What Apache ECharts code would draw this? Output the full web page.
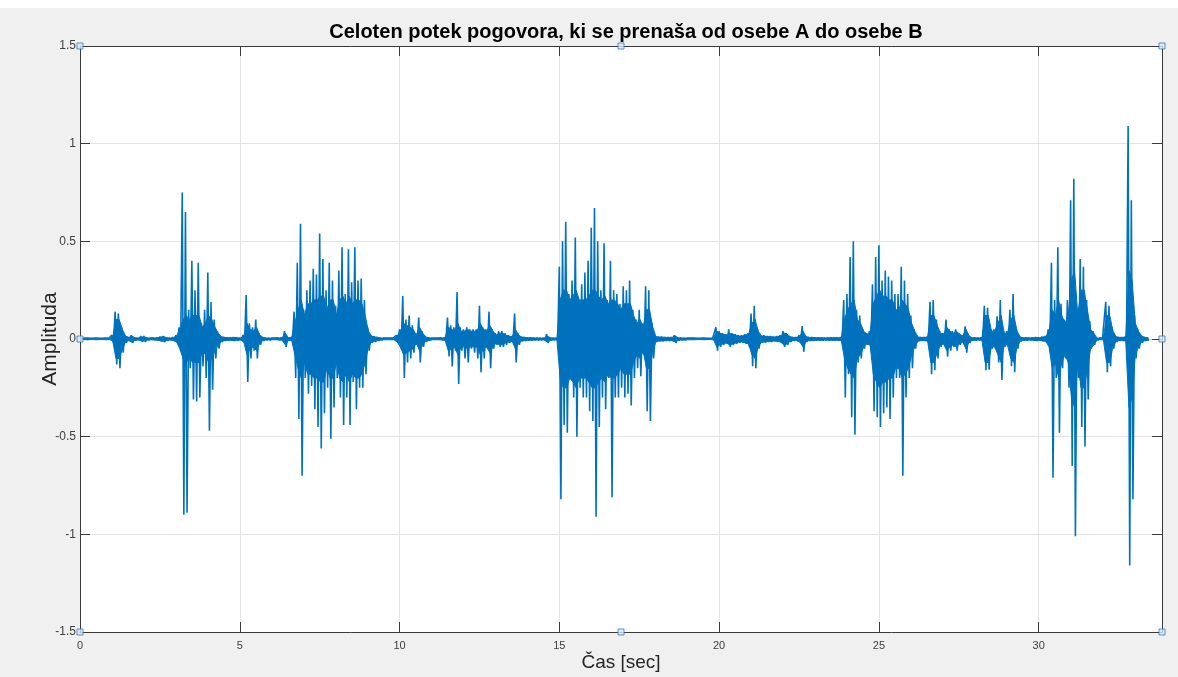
<!DOCTYPE html>
<html>
<head>
<meta charset="utf-8">
<script src="https://cdn.jsdelivr.net/npm/echarts@6/dist/echarts.min.js"></script>
<style>
html,body{margin:0;padding:0;background:#f0f0f0;}
#chart{width:1178px;height:677px;}
</style>
</head>
<body>
<div id="chart"></div>
<script>
// Waveform: one bin every 0.1 s starting at 0 s.
// upper / lower = peak values in each bin, core = amplitude of the dense core in each bin
const binStep = 0.1;
const upper = [
0.004,0.004,0.005,0.004,0.004,0.005,0.004,0.004,0.005,0.004,
0.02,0.14,0.13,0.06,0.02,0.01,0.02,0.008,0.006,0.015,
0.015,0.006,0.005,0.006,0.008,0.012,0.015,0.008,0.006,0.01,
0.02,0.06,0.75,0.65,0.15,0.40,0.25,0.39,0.08,0.15,
0.34,0.19,0.10,0.04,0.015,0.01,0.008,0.008,0.01,0.008,
0.006,0.02,0.225,0.08,0.06,0.10,0.03,0.01,0.006,0.006,
0.005,0.005,0.006,0.008,0.04,0.008,0.01,0.14,0.39,0.59,
0.15,0.25,0.30,0.36,0.33,0.54,0.41,0.25,0.39,0.30,
0.17,0.35,0.47,0.23,0.46,0.29,0.47,0.30,0.31,0.20,
0.06,0.02,0.015,0.01,0.006,0.005,0.005,0.005,0.005,0.02,
0.05,0.22,0.10,0.12,0.07,0.03,0.11,0.04,0.015,0.008,
0.005,0.005,0.005,0.006,0.008,0.11,0.07,0.06,0.24,0.06,
0.05,0.06,0.05,0.05,0.05,0.17,0.06,0.05,0.14,0.05,
0.03,0.04,0.04,0.03,0.02,0.015,0.13,0.03,0.012,0.01,
0.008,0.008,0.007,0.007,0.006,0.006,0.025,0.008,0.006,0.006,
0.37,0.50,0.60,0.23,0.30,0.52,0.20,0.28,0.34,0.40,
0.57,0.67,0.50,0.25,0.49,0.20,0.40,0.25,0.23,0.18,
0.27,0.25,0.30,0.15,0.10,0.15,0.08,0.27,0.25,0.08,
0.015,0.012,0.012,0.01,0.01,0.01,0.02,0.008,0.007,0.006,
0.005,0.005,0.005,0.004,0.004,0.005,0.004,0.004,0.005,0.06,
0.04,0.03,0.025,0.05,0.03,0.025,0.02,0.02,0.025,0.03,
0.13,0.17,0.05,0.02,0.02,0.015,0.015,0.012,0.015,0.02,
0.04,0.03,0.015,0.01,0.01,0.02,0.066,0.015,0.01,0.01,
0.008,0.008,0.008,0.007,0.008,0.008,0.009,0.008,0.01,0.20,
0.23,0.42,0.50,0.15,0.12,0.05,0.03,0.04,0.28,0.42,
0.48,0.30,0.35,0.32,0.30,0.23,0.23,0.37,0.30,0.23,
0.12,0.05,0.012,0.01,0.01,0.012,0.19,0.20,0.10,0.04,
0.03,0.10,0.05,0.04,0.05,0.03,0.02,0.065,0.02,0.008,
0.008,0.007,0.008,0.17,0.16,0.05,0.05,0.116,0.20,0.04,
0.04,0.15,0.23,0.05,0.012,0.008,0.008,0.007,0.008,0.01,
0.008,0.012,0.015,0.05,0.39,0.20,0.47,0.18,0.10,0.20,
0.71,0.82,0.15,0.41,0.37,0.20,0.09,0.04,0.006,0.005,
0.005,0.19,0.17,0.06,0.015,0.01,0.01,0.012,1.09,0.71,
0.12,0.05,0.02,0.01,0.008
];
const lower = [
-0.004,-0.005,-0.004,-0.004,-0.005,-0.004,-0.004,-0.005,-0.004,-0.004,
-0.02,-0.13,-0.15,-0.07,-0.02,-0.01,-0.02,-0.008,-0.006,-0.015,
-0.015,-0.006,-0.005,-0.006,-0.008,-0.012,-0.015,-0.008,-0.006,-0.01,
-0.02,-0.06,-0.90,-0.89,-0.15,-0.31,-0.32,-0.30,-0.14,-0.20,
-0.47,-0.26,-0.10,-0.05,-0.015,-0.01,-0.008,-0.008,-0.01,-0.008,
-0.006,-0.02,-0.22,-0.10,-0.06,-0.10,-0.03,-0.01,-0.006,-0.006,
-0.005,-0.005,-0.006,-0.008,-0.04,-0.008,-0.01,-0.20,-0.41,-0.70,
-0.20,-0.28,-0.24,-0.36,-0.45,-0.56,-0.38,-0.25,-0.51,-0.35,
-0.20,-0.30,-0.44,-0.30,-0.44,-0.22,-0.36,-0.25,-0.25,-0.18,
-0.06,-0.02,-0.015,-0.01,-0.006,-0.005,-0.005,-0.005,-0.005,-0.02,
-0.05,-0.20,-0.12,-0.10,-0.07,-0.03,-0.12,-0.04,-0.015,-0.008,
-0.005,-0.005,-0.005,-0.006,-0.008,-0.09,-0.14,-0.06,-0.23,-0.06,
-0.10,-0.12,-0.05,-0.07,-0.10,-0.17,-0.10,-0.05,-0.15,-0.05,
-0.03,-0.04,-0.04,-0.03,-0.02,-0.015,-0.12,-0.03,-0.012,-0.01,
-0.008,-0.008,-0.007,-0.007,-0.006,-0.006,-0.02,-0.008,-0.006,-0.006,
-0.82,-0.44,-0.48,-0.20,-0.30,-0.50,-0.25,-0.30,-0.30,-0.37,
-0.42,-0.91,-0.45,-0.30,-0.36,-0.20,-0.81,-0.30,-0.30,-0.25,
-0.30,-0.28,-0.34,-0.20,-0.15,-0.19,-0.08,-0.37,-0.42,-0.10,
-0.015,-0.012,-0.012,-0.01,-0.01,-0.01,-0.02,-0.008,-0.007,-0.006,
-0.005,-0.004,-0.005,-0.005,-0.004,-0.005,-0.004,-0.005,-0.004,-0.06,
-0.04,-0.03,-0.025,-0.04,-0.03,-0.025,-0.02,-0.02,-0.025,-0.04,
-0.14,-0.15,-0.05,-0.02,-0.02,-0.015,-0.015,-0.012,-0.015,-0.02,
-0.04,-0.03,-0.015,-0.01,-0.01,-0.02,-0.065,-0.015,-0.01,-0.01,
-0.008,-0.008,-0.008,-0.007,-0.008,-0.008,-0.009,-0.008,-0.01,-0.30,
-0.18,-0.40,-0.49,-0.12,-0.10,-0.05,-0.03,-0.05,-0.37,-0.40,
-0.45,-0.38,-0.35,-0.41,-0.30,-0.20,-0.20,-0.70,-0.30,-0.20,
-0.15,-0.05,-0.012,-0.01,-0.01,-0.012,-0.18,-0.16,-0.10,-0.04,
-0.03,-0.09,-0.06,-0.04,-0.06,-0.03,-0.02,-0.07,-0.02,-0.008,
-0.008,-0.007,-0.008,-0.16,-0.157,-0.05,-0.05,-0.12,-0.21,-0.04,
-0.04,-0.14,-0.17,-0.05,-0.012,-0.008,-0.008,-0.007,-0.008,-0.01,
-0.008,-0.012,-0.015,-0.05,-0.71,-0.20,-0.48,-0.15,-0.10,-0.25,
-0.65,-1.01,-0.20,-0.45,-0.55,-0.31,-0.05,-0.03,-0.006,-0.005,
-0.005,-0.17,-0.14,-0.05,-0.015,-0.01,-0.01,-0.012,-1.16,-0.82,
-0.10,-0.05,-0.02,-0.01,-0.008
];
const core = [
0.003,0.003,0.004,0.003,0.003,0.004,0.003,0.003,0.004,0.003,
0.01,0.10,0.10,0.05,0.015,0.008,0.015,0.006,0.005,0.01,
0.01,0.005,0.004,0.005,0.006,0.01,0.012,0.006,0.005,0.008,
0.015,0.05,0.10,0.12,0.10,0.12,0.12,0.12,0.06,0.08,
0.12,0.10,0.06,0.03,0.012,0.008,0.006,0.006,0.008,0.006,
0.005,0.015,0.08,0.05,0.04,0.06,0.02,0.008,0.005,0.005,
0.004,0.004,0.005,0.006,0.03,0.006,0.008,0.08,0.15,0.20,
0.12,0.18,0.18,0.20,0.20,0.22,0.22,0.15,0.20,0.20,
0.12,0.20,0.22,0.18,0.22,0.18,0.20,0.20,0.18,0.12,
0.04,0.015,0.01,0.008,0.005,0.004,0.004,0.004,0.004,0.015,
0.04,0.08,0.07,0.06,0.05,0.02,0.06,0.03,0.01,0.006,
0.004,0.004,0.004,0.005,0.006,0.06,0.05,0.04,0.08,0.04,
0.04,0.05,0.04,0.04,0.04,0.08,0.05,0.04,0.07,0.04,
0.02,0.03,0.03,0.02,0.015,0.012,0.05,0.02,0.01,0.008,
0.006,0.006,0.005,0.005,0.005,0.005,0.015,0.006,0.005,0.005,
0.20,0.25,0.25,0.20,0.22,0.25,0.20,0.20,0.20,0.22,
0.25,0.25,0.22,0.20,0.22,0.18,0.20,0.20,0.18,0.15,
0.18,0.18,0.18,0.12,0.08,0.10,0.06,0.15,0.15,0.06,
0.012,0.01,0.01,0.008,0.008,0.008,0.015,0.006,0.005,0.005,
0.004,0.004,0.004,0.003,0.003,0.004,0.003,0.003,0.004,0.04,
0.03,0.025,0.02,0.03,0.025,0.02,0.015,0.015,0.02,0.025,
0.08,0.10,0.04,0.015,0.015,0.012,0.012,0.01,0.012,0.015,
0.03,0.025,0.012,0.008,0.008,0.015,0.04,0.012,0.008,0.008,
0.006,0.006,0.006,0.005,0.006,0.006,0.007,0.006,0.008,0.10,
0.15,0.18,0.20,0.10,0.08,0.04,0.025,0.03,0.18,0.22,
0.25,0.22,0.22,0.20,0.20,0.15,0.15,0.20,0.18,0.15,
0.08,0.04,0.01,0.008,0.008,0.01,0.12,0.12,0.07,0.03,
0.025,0.06,0.04,0.03,0.04,0.025,0.015,0.05,0.015,0.006,
0.006,0.005,0.006,0.12,0.12,0.04,0.04,0.08,0.12,0.03,
0.03,0.10,0.12,0.04,0.01,0.006,0.006,0.005,0.006,0.008,
0.006,0.01,0.012,0.04,0.15,0.12,0.20,0.12,0.08,0.12,
0.30,0.35,0.12,0.25,0.25,0.15,0.05,0.03,0.005,0.004,
0.004,0.12,0.12,0.04,0.012,0.008,0.008,0.01,0.35,0.30,
0.08,0.04,0.015,0.008,0.006
];
const xMin = 0, xMax = 33.86, xInterval = 5;
const yMin = -1.5, yMax = 1.5, yInterval = 0.5;
const titleText = 'Celoten potek pogovora, ki se prenaša od osebe A do osebe B';
const xName = 'Čas [sec]';
const yName = 'Amplituda';

const wave = [], coreTop = [], coreBottom = [];
for (let i = 0; i < upper.length; i++) {
  const t = i * binStep;
  wave.push([+t.toFixed(3), upper[i]]);
  wave.push([+(t + binStep / 2).toFixed(3), lower[i]]);
  coreTop.push([+(t + binStep / 4).toFixed(3), core[i]]);
  coreBottom.push([+(t + binStep / 4).toFixed(3), -core[i]]);
}
const handles = [
  [xMin, yMax], [(xMin + xMax) / 2, yMax], [xMax, yMax],
  [xMin, 0], [xMax, 0],
  [xMin, yMin], [(xMin + xMax) / 2, yMin], [xMax, yMin]
];

const blue = '#0072BD';
const axisColor = '#3a3a3a';
const font = 'Liberation Sans, Arial, sans-serif';
const lineAxis = {show: true, onZero: false, lineStyle: {color: axisColor, width: 1}};
const tickAxis = {show: true, inside: true, length: 10, lineStyle: {color: axisColor}};
const chart = echarts.init(document.getElementById('chart'), null, {renderer: 'canvas'});
chart.setOption({
  backgroundColor: '#f0f0f0',
  animation: false,
  graphic: [{type: 'rect', left: 0, top: 0, shape: {width: 1178, height: 8}, style: {fill: '#ffffff'}, silent: true, z: -1}],
  title: {
    text: titleText, left: 621, top: 17, textAlign: 'center',
    textStyle: {fontFamily: font, fontSize: 20, fontWeight: 'bold', color: '#000'}
  },
  grid: {left: 80, right: 16, top: 46, bottom: 45, show: true, backgroundColor: '#ffffff', borderWidth: 0,
         containLabel: false, outerBoundsMode: 'none'},
  xAxis: [{
    type: 'value', min: xMin, max: xMax, interval: xInterval, position: 'bottom',
    name: xName, nameLocation: 'middle', nameGap: 21, nameMoveOverlap: false,
    nameTextStyle: {fontFamily: font, fontSize: 19, color: '#262626'},
    axisLine: lineAxis, axisTick: tickAxis,
    axisLabel: {show: true, showMaxLabel: false, margin: 8, fontFamily: font, fontSize: 11, color: '#404040'},
    splitLine: {show: true, lineStyle: {color: '#e3e3e3', width: 1}}
  }, {
    type: 'value', min: xMin, max: xMax, interval: xInterval, position: 'top',
    axisLine: lineAxis, axisTick: tickAxis,
    axisLabel: {show: false}, splitLine: {show: false}
  }],
  yAxis: [{
    type: 'value', min: yMin, max: yMax, interval: yInterval, position: 'left',
    name: yName, nameLocation: 'middle', nameGap: 19, nameMoveOverlap: false,
    nameTextStyle: {fontFamily: font, fontSize: 21, color: '#262626'},
    axisLine: lineAxis, axisTick: tickAxis,
    axisLabel: {show: true, margin: 4, fontFamily: font, fontSize: 12, color: '#404040'},
    splitLine: {show: true, lineStyle: {color: '#e3e3e3', width: 1}}
  }, {
    type: 'value', min: yMin, max: yMax, interval: yInterval, position: 'right',
    axisLine: lineAxis, axisTick: tickAxis,
    axisLabel: {show: false}, splitLine: {show: false}
  }],
  series: [{
    type: 'line', data: coreTop, xAxisIndex: 0, yAxisIndex: 0,
    showSymbol: false, symbol: 'none', sampling: null,
    lineStyle: {color: blue, width: 1}, areaStyle: {color: blue, opacity: 1}, z: 3
  }, {
    type: 'line', data: coreBottom, xAxisIndex: 0, yAxisIndex: 0,
    showSymbol: false, symbol: 'none', sampling: null,
    lineStyle: {color: blue, width: 1}, areaStyle: {color: blue, opacity: 1}, z: 3
  }, {
    type: 'line', data: wave, xAxisIndex: 0, yAxisIndex: 0,
    showSymbol: false, symbol: 'none', sampling: null, smooth: false,
    lineStyle: {color: blue, width: 1.6}, z: 4
  }, {
    type: 'scatter', data: handles, xAxisIndex: 0, yAxisIndex: 0, clip: false,
    symbol: 'rect', symbolSize: 6,
    itemStyle: {color: '#dce9f5', borderColor: '#2a7cc7', borderWidth: 1}, z: 10, silent: true
  }]
});
</script>
</body>
</html>
